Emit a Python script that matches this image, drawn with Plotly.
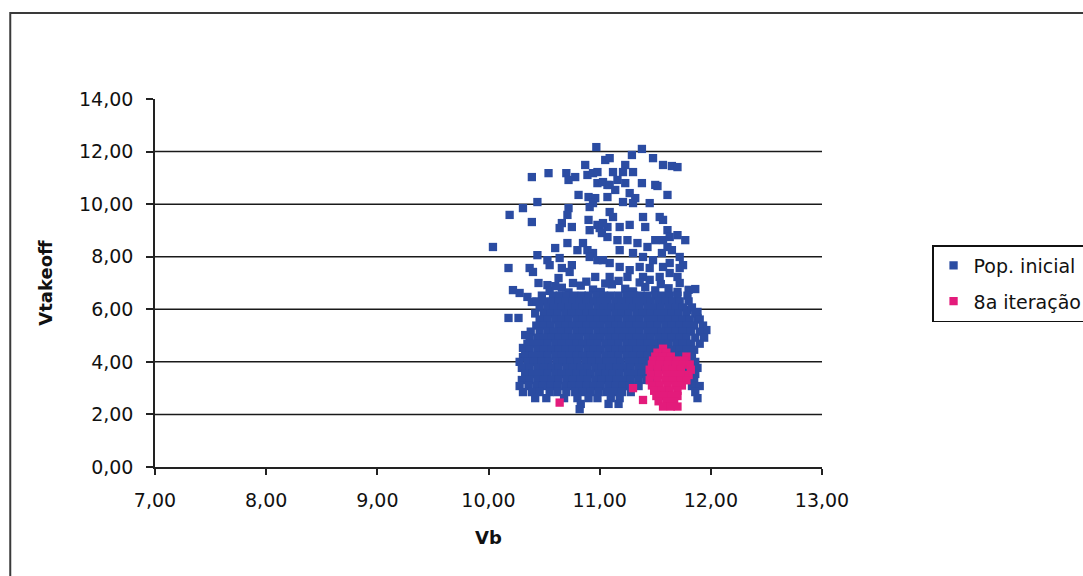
import plotly.graph_objects as go

# Initial population, scattered upper part (Vb, Vtakeoff)
pop_upper_vb = [10.97, 11.05, 10.87, 10.39, 10.54, 10.70, 10.78, 10.72, 10.89, 10.94, 10.98,
                10.98, 11.03, 11.07, 10.81, 10.90, 10.96, 10.94, 10.91, 10.44, 10.31, 10.19,
                10.39, 10.72, 10.71, 10.66, 10.75, 10.64, 10.90, 10.98, 10.91, 11.00, 11.07,
                10.04, 10.60, 10.71, 10.80, 10.85, 10.89, 10.94, 10.91, 10.98, 10.44, 10.53,
                10.55, 10.64, 10.66, 10.75, 10.73, 10.18, 10.37, 10.40, 10.96,
                11.38, 11.48, 11.29, 11.23, 11.21, 11.30, 11.12, 11.09, 11.57, 11.65, 11.70,
                11.38, 11.50, 11.52, 11.61, 11.09, 11.16, 11.23, 11.14, 11.27, 11.32, 11.21,
                11.30, 11.45, 11.07, 11.09, 11.12, 11.18, 11.27, 11.39, 11.41, 11.54, 11.57,
                11.61, 11.70, 11.77, 11.03, 11.02, 11.07, 11.16, 11.25, 11.34, 11.43, 11.50,
                11.57, 11.63, 11.61, 11.56, 11.65, 11.72, 11.75, 11.63, 11.57, 11.45, 11.36,
                11.27, 11.18, 11.09, 11.03, 11.30, 11.18, 11.39, 11.48, 11.63, 11.70, 11.54,
                11.39, 11.25, 11.09, 11.72, 11.72, 11.86,
                10.22, 10.28, 10.35, 10.39, 10.18, 10.27, 10.46, 10.33, 10.31, 10.31,
                10.45, 10.53, 10.63, 10.76, 11.79, 11.88, 11.88, 11.96,
                10.55, 10.66, 10.72, 10.83, 10.94, 11.01, 11.11, 11.23, 11.30, 11.41, 11.50,
                11.62, 11.70, 11.80, 10.88, 11.05, 11.17, 11.36, 11.55, 10.60, 11.45]
pop_upper_vt = [12.17, 11.68, 11.49, 11.03, 11.18, 11.18, 11.03, 10.92, 11.11, 11.18, 11.22,
                10.80, 10.84, 10.73, 10.35, 10.27, 10.23, 10.04, 9.89, 10.08, 9.85, 9.59,
                9.32, 9.85, 9.59, 9.28, 9.13, 9.09, 9.40, 9.21, 9.01, 9.09, 9.13,
                8.37, 8.33, 8.52, 8.25, 8.52, 8.25, 8.14, 7.99, 7.87, 8.06, 7.87,
                7.68, 7.95, 7.57, 7.68, 7.42, 7.57, 7.57, 7.42, 7.23,
                12.10, 11.75, 11.87, 11.49, 11.22, 11.22, 11.22, 11.75, 11.49, 11.45, 11.41,
                10.80, 10.73, 10.69, 10.35, 10.73, 10.92, 10.80, 10.54, 10.42, 10.23, 10.08,
                10.04, 10.04, 10.27, 9.70, 9.51, 9.13, 9.21, 9.51, 9.13, 9.51, 9.40,
                9.01, 8.82, 8.63, 9.28, 8.90, 8.75, 8.63, 8.63, 8.52, 8.37, 8.63,
                8.63, 8.75, 8.37, 8.14, 8.25, 7.99, 7.68, 7.76, 7.61, 7.57, 7.61,
                7.49, 7.61, 7.76, 7.87, 8.14, 8.25, 7.99, 7.87, 7.38, 7.23, 7.23,
                7.23, 7.23, 7.23, 7.57, 7.00, 6.77,
                6.73, 6.62, 6.47, 6.28, 5.67, 5.67, 5.59, 5.02, 4.53, 4.18,
                7.00, 6.92, 7.19, 7.00, 5.97, 5.90, 5.67, 5.21,
                6.70, 6.82, 6.64, 6.90, 6.75, 6.66, 6.95, 6.78, 6.68, 6.85, 6.72,
                6.80, 6.66, 6.74, 7.05, 6.98, 7.08, 7.02, 6.96, 6.88, 7.12]

# Initial population, dense core: one row per Vtakeoff level with its Vb values
pop_core_rows = [
    (6.52, [10.48, 10.58, 10.64, 10.70, 10.77, 10.84, 10.90, 10.97, 11.04, 11.10, 11.17, 11.24, 11.31,
            11.37, 11.43, 11.50, 11.56, 11.63, 11.70, 11.79]),
    (6.30, [10.43, 10.50, 10.57, 10.63, 10.69, 10.76, 10.82, 10.88, 10.95, 11.01, 11.07, 11.14, 11.20,
            11.27, 11.33, 11.40, 11.46, 11.53, 11.59, 11.66, 11.72, 11.80]),
    (6.07, [10.46, 10.53, 10.59, 10.66, 10.72, 10.78, 10.85, 10.91, 10.98, 11.04, 11.11, 11.17, 11.23,
            11.30, 11.36, 11.43, 11.49, 11.55, 11.62, 11.68, 11.75, 11.83]),
    (5.84, [10.42, 10.50, 10.56, 10.62, 10.69, 10.75, 10.82, 10.88, 10.94, 11.01, 11.07, 11.14, 11.20,
            11.26, 11.33, 11.39, 11.46, 11.52, 11.58, 11.65, 11.71, 11.78, 11.86]),
    (5.61, [10.47, 10.53, 10.60, 10.66, 10.72, 10.79, 10.85, 10.92, 10.98, 11.04, 11.11, 11.17, 11.24,
            11.30, 11.36, 11.43, 11.49, 11.56, 11.62, 11.68, 11.75, 11.81, 11.90]),
    (5.38, [10.43, 10.50, 10.56, 10.63, 10.69, 10.76, 10.82, 10.88, 10.95, 11.01, 11.08, 11.14, 11.20,
            11.27, 11.33, 11.40, 11.46, 11.52, 11.59, 11.65, 11.72, 11.78, 11.85, 11.93]),
    (5.15, [10.38, 10.46, 10.53, 10.59, 10.66, 10.72, 10.79, 10.85, 10.91, 10.98, 11.04, 11.11, 11.17,
            11.23, 11.30, 11.36, 11.43, 11.49, 11.56, 11.62, 11.68, 11.75, 11.82, 11.90]),
    (4.92, [10.37, 10.44, 10.50, 10.57, 10.63, 10.69, 10.76, 10.82, 10.89, 10.95, 11.01, 11.08, 11.14,
            11.21, 11.27, 11.33, 11.40, 11.46, 11.53, 11.59, 11.65, 11.72, 11.78, 11.86, 11.94]),
    (4.69, [10.35, 10.41, 10.47, 10.53, 10.60, 10.66, 10.73, 10.79, 10.85, 10.92, 10.98, 11.05, 11.11,
            11.17, 11.24, 11.30, 11.37, 11.43, 11.49, 11.56, 11.62, 11.69, 11.75, 11.82, 11.90]),
    (4.46, [10.37, 10.44, 10.50, 10.57, 10.63, 10.69, 10.76, 10.82, 10.89, 10.95, 11.01, 11.08, 11.14,
            11.21, 11.27, 11.33, 11.40, 11.46, 11.53, 11.59, 11.65, 11.72, 11.78, 11.85]),
    (4.23, [10.33, 10.40, 10.47, 10.53, 10.60, 10.66, 10.73, 10.79, 10.85, 10.92, 10.98, 11.05, 11.11,
            11.17, 11.24, 11.30, 11.37, 11.43, 11.49, 11.56, 11.62, 11.69, 11.75, 11.83]),
    (4.00, [10.28, 10.35, 10.41, 10.48, 10.54, 10.61, 10.67, 10.74, 10.80, 10.87, 10.93, 11.00, 11.06,
            11.13, 11.19, 11.26, 11.32, 11.39, 11.45, 11.52, 11.58, 11.65, 11.71, 11.79, 11.86]),
    (3.77, [10.30, 10.37, 10.44, 10.50, 10.57, 10.63, 10.70, 10.76, 10.83, 10.89, 10.96, 11.02, 11.09,
            11.15, 11.22, 11.28, 11.35, 11.41, 11.48, 11.55, 11.62, 11.70, 11.80, 11.88]),
    (3.54, [10.33, 10.40, 10.47, 10.53, 10.60, 10.66, 10.73, 10.79, 10.86, 10.92, 10.99, 11.05, 11.12,
            11.18, 11.25, 11.31, 11.38, 11.44, 11.52, 11.86]),
    (3.31, [10.30, 10.37, 10.44, 10.50, 10.57, 10.63, 10.70, 10.76, 10.83, 10.89, 10.96, 11.02, 11.09,
            11.15, 11.22, 11.28, 11.35, 11.42, 11.50, 11.85]),
    (3.08, [10.28, 10.36, 10.43, 10.49, 10.56, 10.62, 10.69, 10.75, 10.82, 10.88, 10.95, 11.01, 11.08,
            11.14, 11.21, 11.27, 11.35, 11.83, 11.90]),
    (2.85, [10.31, 10.39, 10.46, 10.55, 10.62, 10.70, 10.78, 10.85, 10.92, 10.99, 11.06, 11.13, 11.20,
            11.28, 11.86]),
    (2.62, [10.42, 10.52, 10.68, 10.80, 10.90, 10.98, 11.10, 11.18, 11.88]),
    (2.40, [10.83, 11.08, 11.17]),
    (2.20, [10.82]),
]

# 8th iteration: tight cluster, one row per Vtakeoff level
iter8_rows = [
    (4.50, [11.57]),
    (4.35, [11.52, 11.60]),
    (4.20, [11.50, 11.57, 11.64, 11.78]),
    (4.05, [11.48, 11.55, 11.62, 11.69, 11.76]),
    (3.90, [11.47, 11.54, 11.61, 11.68, 11.75, 11.81]),
    (3.70, [11.45, 11.52, 11.59, 11.66, 11.73, 11.82]),
    (3.50, [11.46, 11.53, 11.60, 11.67, 11.74, 11.80]),
    (3.30, [11.45, 11.52, 11.59, 11.66, 11.73, 11.78]),
    (3.10, [11.47, 11.54, 11.61, 11.68, 11.74]),
    (2.90, [11.49, 11.56, 11.63, 11.70]),
    (2.70, [11.51, 11.58, 11.65, 11.70]),
    (2.50, [11.53, 11.60, 11.67]),
    (2.30, [11.57, 11.64, 11.70]),
]
iter8_extra_vb = [11.30, 11.39, 10.64]
iter8_extra_vt = [3.00, 2.55, 2.45]

grid_levels = [2, 4, 6, 8, 10, 12]

pop_vb = list(pop_upper_vb)
pop_vt = list(pop_upper_vt)
for vt, row in pop_core_rows:
    pop_vb += row
    pop_vt += [vt] * len(row)

it_vb = []
it_vt = []
for vt, row in iter8_rows:
    it_vb += row
    it_vt += [vt] * len(row)
it_vb += iter8_extra_vb
it_vt += iter8_extra_vt

BLUE = "#2b4ca2"
PINK = "#e31b7b"
FONT = "DejaVu Sans"
INK = "#111111"

fig = go.Figure()
fig.add_trace(go.Scatter(x=pop_vb, y=pop_vt, mode="markers", name="Pop. inicial", legendgroup="pop",
                         marker=dict(symbol="square", size=8.3, color=BLUE, line=dict(width=0))))
fig.add_trace(go.Scatter(x=it_vb, y=it_vt, mode="markers", name="8a iteração", legendgroup="it8",
                         marker=dict(symbol="square", size=8.3, color=PINK, line=dict(width=0))))

# horizontal gridlines
for g in grid_levels:
    fig.add_shape(type="line", xref="paper", yref="y", x0=0, x1=1, y0=g, y1=g,
                  line=dict(color="#1a1a1a", width=1.5), layer="below")

# outer chart frame
fig.add_shape(type="rect", xref="paper", yref="paper", x0=-0.217, x1=1.45, y0=-0.35, y1=1.234,
              line=dict(color="#3a3a3a", width=2), fillcolor="rgba(0,0,0,0)")

fig.update_layout(
    width=1083, height=576,
    margin=dict(l=155, r=261, t=99, b=109, autoexpand=False),
    paper_bgcolor="white", plot_bgcolor="white",
    separators=",.",
    font=dict(family=FONT, color=INK),
    showlegend=True,
    legend=dict(x=1.165, y=0.603, xanchor="left", yanchor="top",
                bordercolor=INK, borderwidth=1.5, bgcolor="white",
                font=dict(family=FONT, size=19, color=INK),
                tracegroupgap=8, itemwidth=30),
    xaxis=dict(range=[7, 13], dtick=1, tick0=7, tickformat=".2f", showgrid=False, zeroline=False,
               showline=True, linecolor="#222222", linewidth=1.5,
               ticks="outside", ticklen=6, tickcolor="#222222", tickwidth=1.5,
               ticklabelstandoff=9,
               tickfont=dict(family=FONT, size=19, color=INK),
               title=dict(text="<b>Vb</b>", font=dict(family=FONT, size=18, color=INK), standoff=22)),
    yaxis=dict(range=[0, 14], dtick=2, tick0=0, tickformat=".2f", showgrid=False, zeroline=False,
               showline=True, linecolor="#222222", linewidth=1.5,
               ticks="outside", ticklen=7, tickcolor="#222222", tickwidth=1.5,
               ticklabelstandoff=9,
               tickfont=dict(family=FONT, size=19, color=INK),
               title=dict(text="<b>Vtakeoff</b>", font=dict(family=FONT, size=18, color=INK), standoff=22)),
)

fig.write_html("out.html")
